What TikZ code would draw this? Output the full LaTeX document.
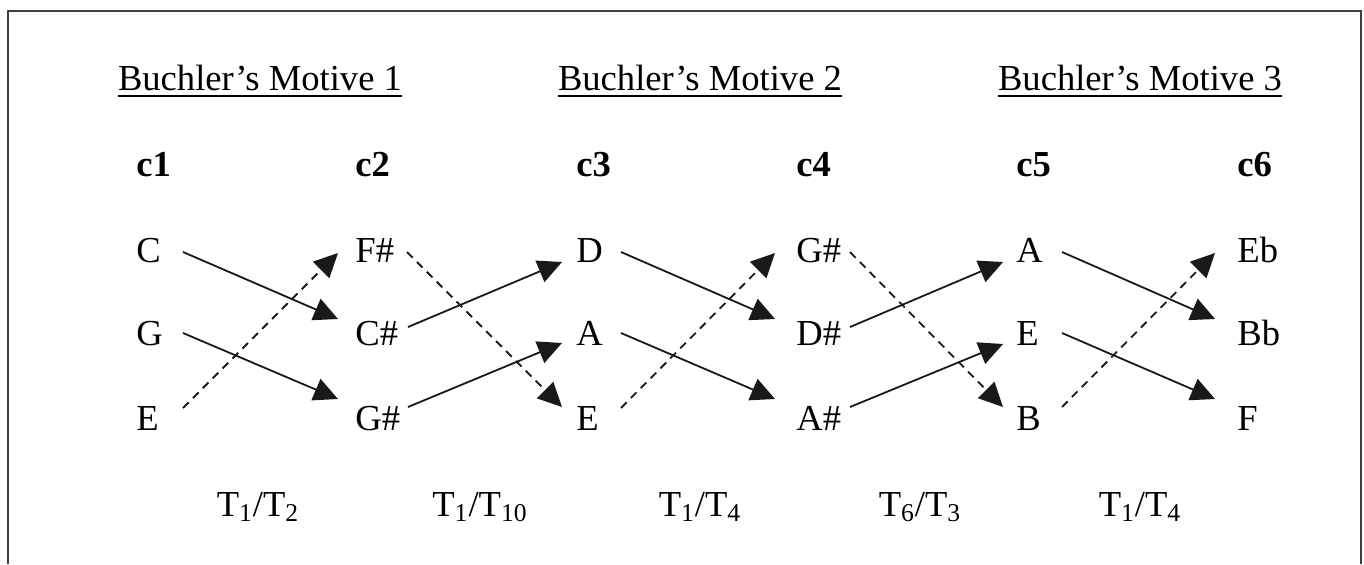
\documentclass[tikz,border=0pt]{standalone}
\usepackage{fontspec}
\setmainfont{Liberation Serif}
\usetikzlibrary{arrows.meta,calc}
\begin{document}
\begin{tikzpicture}[x=0.5pt,y=-0.5pt,
  txt/.style={font=\fontsize{18.3}{22}\selectfont, inner sep=0pt},
  note/.style={txt, anchor=base west},
  head/.style={txt, anchor=base},
  colhd/.style={note, font=\fontsize{18.3}{22}\selectfont\bfseries},
  tlab/.style={txt, anchor=base},
  sol/.style={line width=0.9pt, draw=black!90, -{Triangle[length=12pt,width=11.5pt]}},
  dsh/.style={sol, dash pattern=on 4pt off 3pt},
  uline/.style={line width=1pt},
  frame/.style={line width=1pt, draw=black!75}]
\useasboundingbox (0,0) rectangle (1364,564);
\draw[frame] (7.5,564) -- (7.5,11) -- (1361,11) -- (1361,564);

% headers
\node[head] (m1) at (260,90) {Buchler’s Motive 1};
\node[head] (m2) at (700,90) {Buchler’s Motive 2};
\node[head] (m3) at (1140,90) {Buchler’s Motive 3};
\foreach \m in {m1,m2,m3}{
  \draw[uline] ($(\m.base west)+(0,6)$) -- ($(\m.base east)+(0,6)$);
}

% column labels
\node[colhd] (c1) at (136,176) {c1};
\node[colhd] (c2) at (355,176) {c2};
\node[colhd] (c3) at (576,176) {c3};
\node[colhd] (c4) at (796,176) {c4};
\node[colhd] (c5) at (1016,176) {c5};
\node[colhd] (c6) at (1237,176) {c6};

% notes
\node[note] (a1) at (136,262) {C};
\node[note] (a2) at (136,345) {G};
\node[note] (a3) at (136,430) {E};
\node[note] (b1) at (355,262) {F\#};
\node[note] (b2) at (355,345) {C\#};
\node[note] (b3) at (355,430) {G\#};
\node[note] (d1) at (576,262) {D};
\node[note] (d2) at (576,345) {A};
\node[note] (d3) at (576,430) {E};
\node[note] (e1) at (796,262) {G\#};
\node[note] (e2) at (796,345) {D\#};
\node[note] (e3) at (796,430) {A\#};
\node[note] (f1) at (1016,262) {A};
\node[note] (f2) at (1016,345) {E};
\node[note] (f3) at (1016,430) {B};
\node[note] (g1) at (1237,262) {Eb};
\node[note] (g2) at (1237,345) {Bb};
\node[note] (g3) at (1237,430) {F};

% group 1
\draw[sol] ($(a1.base west)+(47,-10)$) -- ($(b2.base west)+(-17,-26)$);
\draw[sol] ($(a2.base west)+(47,-12)$) -- ($(b3.base west)+(-17,-31)$);
\draw[dsh] ($(a3.base west)+(47,-22)$) -- ($(b1.base west)+(-17,-9)$);
% group 2
\draw[dsh] ($(b1.base west)+(52,-10)$) -- ($(d3.base west)+(-14,-23)$);
\draw[sol] ($(b2.base west)+(53,-18)$) -- ($(d1.base west)+(-14,0)$);
\draw[sol] ($(b3.base west)+(53,-23)$) -- ($(d2.base west)+(-14,-2)$);
% group 3
\draw[sol] ($(d1.base west)+(45,-10)$) -- ($(e2.base west)+(-21,-26)$);
\draw[sol] ($(d2.base west)+(45,-12)$) -- ($(e3.base west)+(-21,-31)$);
\draw[dsh] ($(d3.base west)+(45,-22)$) -- ($(e1.base west)+(-21,-9)$);
% group 4
\draw[dsh] ($(e1.base west)+(54,-10)$) -- ($(f3.base west)+(-13,-23)$);
\draw[sol] ($(e2.base west)+(54,-18)$) -- ($(f1.base west)+(-13,0)$);
\draw[sol] ($(e3.base west)+(54,-23)$) -- ($(f2.base west)+(-13,-1)$);
% group 5
\draw[sol] ($(f1.base west)+(46,-10)$) -- ($(g2.base west)+(-22,-26)$);
\draw[sol] ($(f2.base west)+(46,-12)$) -- ($(g3.base west)+(-22,-31)$);
\draw[dsh] ($(f3.base west)+(46,-23)$) -- ($(g1.base west)+(-22,-9)$);

% transformation labels
\node[tlab] (t1) at (258,516) {T\textsubscript{1}/T\textsubscript{2}};
\node[tlab] (t2) at (480,516) {T\textsubscript{1}/T\textsubscript{10}};
\node[tlab] (t3) at (700,516) {T\textsubscript{1}/T\textsubscript{4}};
\node[tlab] (t4) at (920,516) {T\textsubscript{6}/T\textsubscript{3}};
\node[tlab] (t5) at (1140,516) {T\textsubscript{1}/T\textsubscript{4}};
\end{tikzpicture}
\end{document}
